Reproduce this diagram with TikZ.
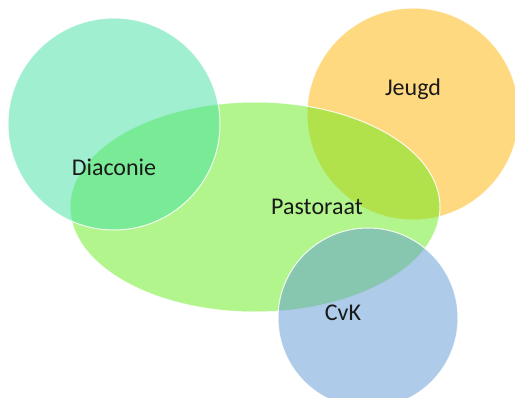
\documentclass[tikz,border=0pt]{standalone}
\usepackage{fontspec}
\setmainfont{Carlito}
\usetikzlibrary{shapes.geometric}
\definecolor{cDiac}{RGB}{65,223,162}
\definecolor{cJeugd}{RGB}{255,179,1}
\definecolor{cPast}{RGB}{101,235,25}
\definecolor{cCvK}{RGB}{93,151,211}
\definecolor{txt}{RGB}{26,26,26}
\tikzset{
  venn/.style={draw=white, line width=1pt, fill opacity=0.5, draw opacity=0.85, inner sep=0pt},
  lbl/.style={text=txt, font=\fontsize{24}{28}\selectfont, inner sep=0pt}
}
\begin{document}
\begin{tikzpicture}[x=1pt,y=-1pt]
\useasboundingbox (0,0) rectangle (515,397);
\node[venn, circle, fill=cJeugd, minimum size=212pt] (jeugd) at (413,114) {};
\node[venn, ellipse, fill=cPast, minimum width=370pt, minimum height=210pt] (past) at (255,207) {};
\node[venn, circle, fill=cDiac, minimum size=212pt] (diac) at (114,124) {};
\node[venn, circle, fill=cCvK, minimum size=180pt] (cvk) at (368,318) {};
\node[lbl] (tdiac) at (114,167) {Diaconie};
\node[lbl] (tjeugd) at (413,89) {Jeugd};
\node[lbl] (tpast) at (317,207) {Pastoraat};
\node[lbl] (tcvk) at (343,313) {CvK};
\end{tikzpicture}
\end{document}
